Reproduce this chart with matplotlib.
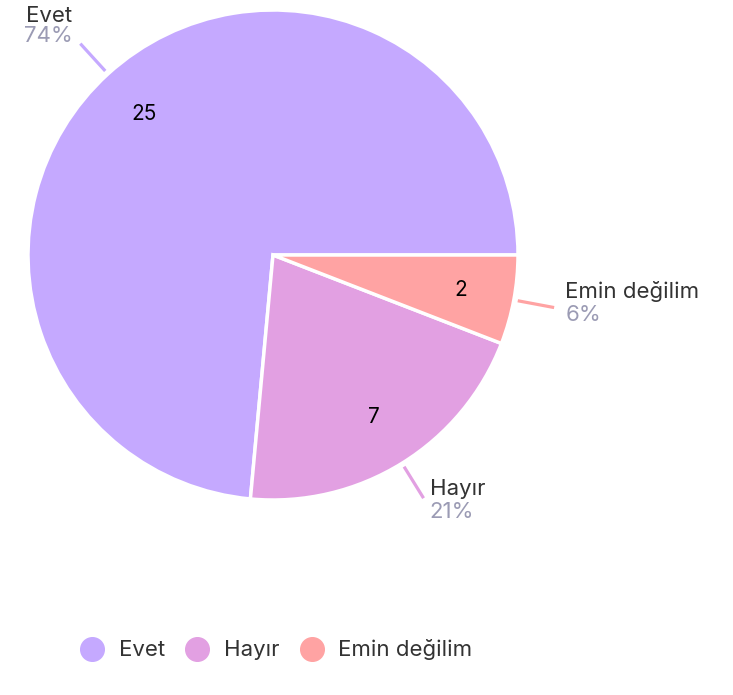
import matplotlib
matplotlib.use("Agg")
import matplotlib.pyplot as plt
import numpy as np
from matplotlib.lines import Line2D

categories = ["Evet", "Hayır", "Emin değilim"]
values = [25, 7, 2]
percent_labels = ["74%", "21%", "6%"]
colors = ["#c5a9ff", "#e2a0e2", "#ffa3a3"]

plt.rcParams['font.family'] = ['Inter', 'DejaVu Sans']

W, H = 733, 695
fig = plt.figure(figsize=(W / 100, H / 100), dpi=100)
ax = fig.add_axes([0, 0, 1, 1])

cx, cy = 273, H - 255
R = 245

wedges, texts = ax.pie(values, colors=colors, startangle=0, counterclock=True,
                       center=(cx, cy), radius=R, labels=[str(v) for v in values],
                       labeldistance=0.78,
                       wedgeprops=dict(edgecolor='white', linewidth=2.5),
                       textprops=dict(fontsize=15, color='black', ha='center', va='center'),
                       frame=True)
ax.set_xlim(0, W)
ax.set_ylim(0, H)
ax.set_aspect('equal')
ax.axis('off')

# outside labels with leader lines
offsets = {  # (dx, dy name center, dy pct center, ha) in pixels (screen, y down)
    0: (-8, -28, -8, 'right'),
    1: (6, -9, 14, 'left'),
    2: (11, -16, 7, 'left'),
}
for i, w in enumerate(wedges):
    theta = np.deg2rad((w.theta1 + w.theta2) / 2)
    r1, r2 = R + 4, R + 41
    x1, y1 = cx + r1 * np.cos(theta), cy + r1 * np.sin(theta)
    x2, y2 = cx + r2 * np.cos(theta), cy + r2 * np.sin(theta)
    ax.plot([x1, x2], [y1, y2], color=colors[i], lw=2.3, solid_capstyle='butt')
    dx, dyn, dyp, ha = offsets[i]
    ax.text(x2 + dx, y2 - dyn, categories[i], ha=ha, va='center',
            fontsize=16, color='#333333')
    ax.text(x2 + dx, y2 - dyp, percent_labels[i], ha=ha, va='center',
            fontsize=16, color='#9b9bb4')

handles = [Line2D([], [], marker='o', linestyle='none', markersize=17,
                  markerfacecolor=c, markeredgecolor=c) for c in colors]
fig.legend(handles, categories, loc='center', bbox_to_anchor=(0.370, 1 - 650 / H),
           ncol=3, frameon=False, fontsize=16, handletextpad=0.2,
           columnspacing=0.45, labelcolor='#333333')

fig.savefig("out.png", dpi=100)
